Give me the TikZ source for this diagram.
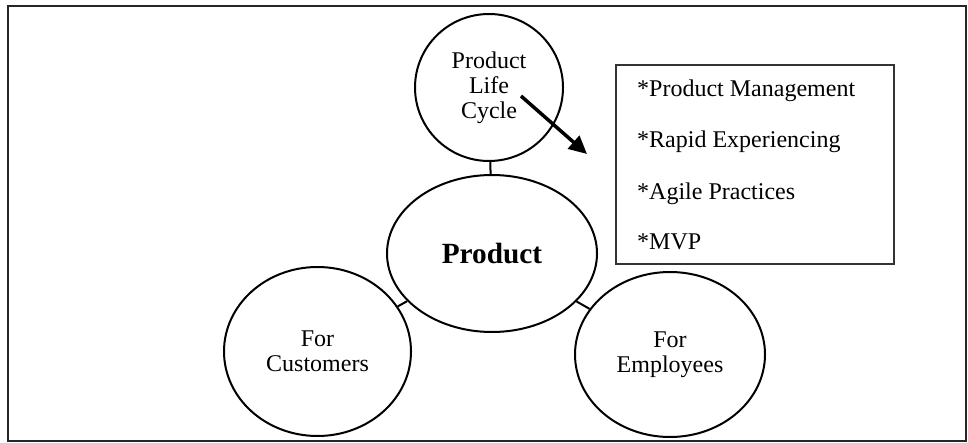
\documentclass[tikz,border=0pt]{standalone}
\usepackage{fontspec}
\setmainfont{Liberation Serif}
\usetikzlibrary{shapes.geometric,arrows.meta}
\begin{document}
\begin{tikzpicture}[x=1pt,y=-1pt,
  bubble/.style={draw, ellipse, line width=2pt, inner sep=0pt, align=center,
    font=\fontsize{24}{25}\selectfont},
  link/.style={line width=2pt},
  item/.style={anchor=base west, inner sep=0pt, font=\fontsize{24}{26}\selectfont}]
\useasboundingbox (0,0) rectangle (968,443);
\draw[line width=2pt, black!85] (8,6) rectangle (966,441);
\node[bubble, minimum width=148pt, minimum height=147pt] (plc) at (489,87.5) {Product\\Life\\Cycle};
\node[bubble, minimum width=210pt, minimum height=157pt, font=\fontsize{29.3}{30}\selectfont\bfseries] (prod) at (492,253.5) {Product};
\node[bubble, minimum width=187pt, minimum height=169pt] (cust) at (317.5,351.5) {For\\Customers};
\node[bubble, minimum width=190pt, minimum height=165pt] (emp) at (670,354.5) {For\\Employees};
\draw[link] (plc) -- (prod);
\draw[link] (prod) -- (cust);
\draw[link] (prod) -- (emp);
\node[draw, line width=1.5pt, black!80, minimum width=278pt, minimum height=199pt, inner sep=0pt] (box) at (755,164.5) {};
\node[item] (i1) at (637,96.5) {*Product Management};
\node[item] (i2) at (637,148) {*Rapid Experiencing};
\node[item] (i3) at (637,199.5) {*Agile Practices};
\node[item] (i4) at (637,250) {*MVP};
\coordinate (a1) at (521,96);
\coordinate (a2) at (587,154);
\draw[line width=3.5pt, -{Triangle[length=18pt,width=17pt]}] (a1) -- (a2);
\end{tikzpicture}
\end{document}
